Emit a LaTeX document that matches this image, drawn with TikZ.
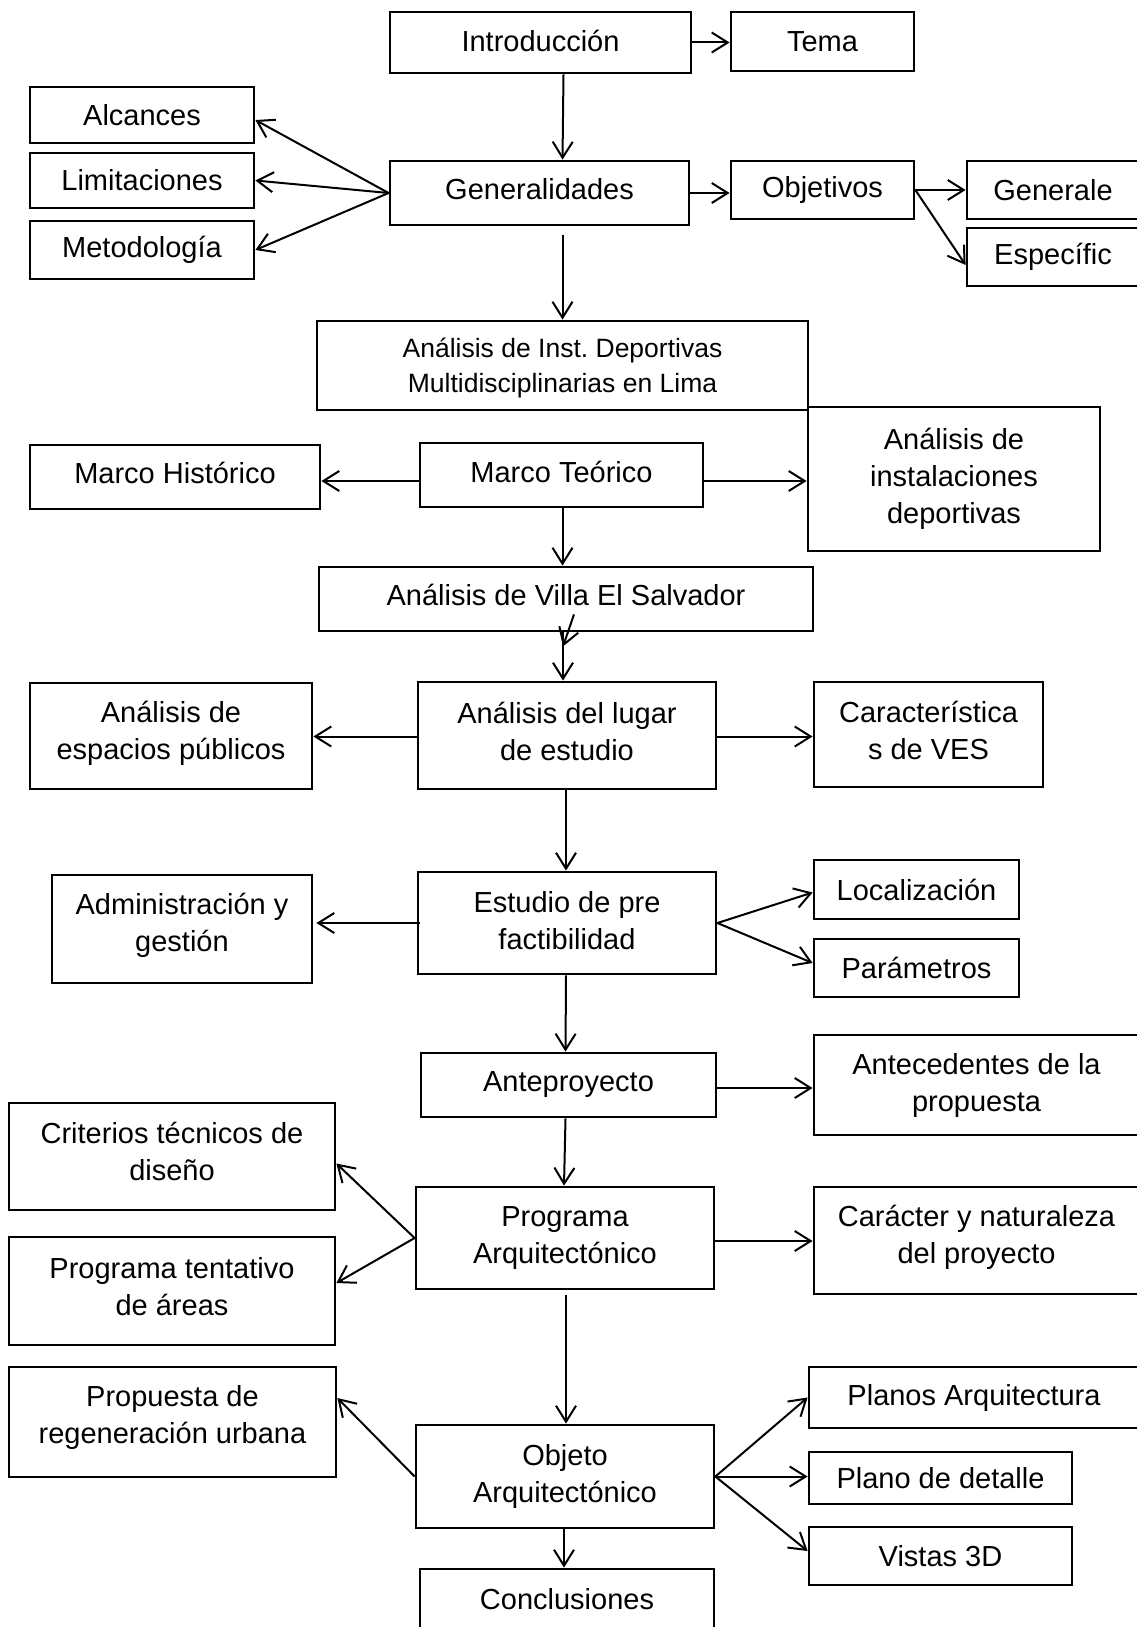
\documentclass[tikz,border=0pt]{standalone}
\usepackage{fontspec}
\setmainfont{Liberation Sans}
\usetikzlibrary{arrows.meta}
\usetikzlibrary{positioning}
\frenchspacing

\begin{document}
\begin{tikzpicture}[x=1pt,y=-1pt,->,>={Straight Barb[length=16pt,width=20pt]},
    line width=2pt,
    main box/.style={rectangle,draw,line width=2.8pt,inner sep=0pt,align=center,
      font=\fontsize{29}{37}\selectfont},
    small box/.style={main box,font=\fontsize{26.5}{35}\selectfont}]
   \path[use as bounding box,fill=white] (0,0) rectangle (1137,1627);
   % top rows
   \node[main box,minimum width=301,minimum height=61,text depth=4pt] (intro) at (540.5,42.5) {Introducción};
   \node[main box,minimum width=183,minimum height=59] (tema) at (822.5,41.5) {Tema};
   \node[main box,minimum width=224,minimum height=56] (alc) at (142,115) {Alcances};
   \node[main box,minimum width=224,minimum height=55] (lim) at (142,180.5) {Limitaciones};
   \node[main box,minimum width=224,minimum height=58] (met) at (142,250) {Metodología};
   \node[main box,minimum width=299,minimum height=64,text depth=8pt] (gen) at (539.5,193) {Generalidades};
   \node[main box,minimum width=183,minimum height=58] (obj) at (822.5,190) {Objetivos};
   \node[main box,minimum width=172,minimum height=58] (genr) at (1053,190) {Generale};
   \node[main box,minimum width=172,minimum height=58] (esp) at (1053,257) {Específic};
   % marco
   \node[small box,minimum width=491,minimum height=89,text depth=0pt] (inst) at (562.5,365.5) {Análisis de Inst. Deportivas\\Multidisciplinarias en Lima};
   \node[main box,minimum width=292,minimum height=144] (insd) at (954,479) {Análisis de\\instalaciones\\deportivas};
   \node[main box,minimum width=290,minimum height=64,text depth=8pt] (hist) at (175,477) {Marco Histórico};
   \node[main box,minimum width=283,minimum height=64,text depth=6pt] (mt) at (561.5,475) {Marco Teórico};
   \node[main box,minimum width=494,minimum height=64,text depth=8pt] (villa) at (566,599) {Análisis de Villa El Salvador};
   % lugar y estudio
   \node[main box,minimum width=298,minimum height=107,text depth=8pt] (lugar) at (567,735.5) {Análisis del lugar\\de estudio};
   \node[main box,minimum width=282,minimum height=106,text depth=12pt] (esppub) at (171,736) {Análisis de\\espacios públicos};
   \node[main box,minimum width=229,minimum height=105,text depth=8pt] (carac) at (928.5,734.5) {Característica\\s de VES};
   \node[main box,minimum width=260,minimum height=108,text depth=14pt] (admin) at (182,929) {Administración y\\gestión};
   \node[main box,minimum width=298,minimum height=102,text depth=6pt] (estudio) at (567,923) {Estudio de pre\\factibilidad};
   \node[main box,minimum width=205,minimum height=59] (loc) at (916.5,889.5) {Localización};
   \node[main box,minimum width=205,minimum height=58] (par) at (916.5,968) {Parámetros};
   % anteproyecto
   \node[main box,minimum width=295,minimum height=64] (ante) at (568.5,1085) {Anteproyecto};
   \node[main box,minimum width=325,minimum height=100] (antec) at (976.5,1085) {Antecedentes de la\\propuesta};
   \node[main box,minimum width=326,minimum height=107,text depth=10pt] (crit) at (172,1156.5) {Criterios técnicos de\\diseño};
   \node[main box,minimum width=326,minimum height=108,text depth=10pt] (progt) at (172,1291) {Programa tentativo\\de áreas};
   \node[main box,minimum width=298,minimum height=102] (prog) at (565,1238) {Programa\\Arquitectónico};
   \node[main box,minimum width=325,minimum height=107,text depth=13pt] (carn) at (976.5,1240.5) {Carácter y naturaleza\\del proyecto};
   % objeto
   \node[main box,minimum width=327,minimum height=110,text depth=16pt] (prop) at (172.5,1422) {Propuesta de\\regeneración urbana};
   \node[main box,minimum width=298,minimum height=103] (objeto) at (565,1476.5) {Objeto\\Arquitectónico};
   \node[main box,minimum width=330,minimum height=61] (planos) at (974,1397.5) {Planos Arquitectura};
   \node[main box,minimum width=263,minimum height=52] (pdet) at (940.5,1478) {Plano de detalle};
   \node[main box,minimum width=263,minimum height=58] (vistas) at (940.5,1556) {Vistas 3D};
   \node[main box,minimum width=294,minimum height=60] (concl) at (567,1599) {Conclusiones};

   % connectors
   \draw (intro.east) -- (intro.east -| tema.west);
   \draw ([xshift=23pt]intro.south) -- ([xshift=23pt]gen.north);
   \draw (gen.west) -- ([yshift=-5pt]alc.east);
   \draw (gen.west) -- (lim.east);
   \draw (gen.west) -- (met.east);
   \draw (gen.east) -- (gen.east -| obj.west);
   \draw (obj.east) -- (obj.east -| genr.west);
   \draw (obj.east) -- ([yshift=-8pt]esp.west);
   \draw ([yshift=-9pt]gen.south -| inst.north) -- (inst.north);
   \draw ([yshift=-6pt]mt.west) -- ([yshift=-6pt]mt.west -| hist.east);
   \draw ([yshift=-6pt]mt.east) -- ([yshift=-6pt]mt.east -| insd.west);
   \draw ([xshift=1pt]mt.south) -- ([xshift=1pt]mt.south |- villa.north);
   \draw ([xshift=8pt,yshift=18pt]villa.south) -- ([xshift=-3pt,yshift=-14pt]villa.south);
   \draw ([xshift=-3pt]villa.south) -- ([xshift=-3pt]villa.south |- lugar.north);
   \draw ([yshift=-1pt]lugar.west) -- ([yshift=-1pt]lugar.west -| esppub.east);
   \draw ([yshift=-1pt]lugar.east) -- ([yshift=-1pt]lugar.east -| carac.west);
   \draw ([xshift=-1pt]lugar.south) -- ([xshift=-1pt]estudio.north);
   \draw ([xshift=3pt]estudio.west) -- ([xshift=3pt]estudio.west -| admin.east);
   \draw (estudio.east) -- ([yshift=-3pt]loc.west);
   \draw (estudio.east) -- ([yshift=5pt]par.west);
   \draw ([xshift=-1pt]estudio.south) -- ([xshift=-3pt]ante.north);
   \draw ([yshift=-3pt]ante.east) -- ([yshift=-3pt]ante.east -| antec.west);
   \draw ([xshift=-3pt]ante.south) -- ([xshift=-1pt]prog.north);
   \draw (prog.west) -- ([yshift=-7pt]crit.east);
   \draw (prog.west) -- ([yshift=8pt]progt.east);
   \draw ([yshift=-3pt]prog.east) -- ([yshift=-3pt]prog.east -| carn.west);
   \draw ([xshift=1pt,yshift=-5pt]prog.south) -- ([xshift=1pt]objeto.north);
   \draw (objeto.west) -- ([yshift=24pt]prop.east);
   \draw (objeto.east) -- (planos.west);
   \draw (objeto.east) -- (objeto.east -| pdet.west);
   \draw (objeto.east) -- ([yshift=5pt]vistas.west);
   \draw ([xshift=-1pt]objeto.south) -- ([xshift=-3pt]concl.north);
\end{tikzpicture}
\end{document}
